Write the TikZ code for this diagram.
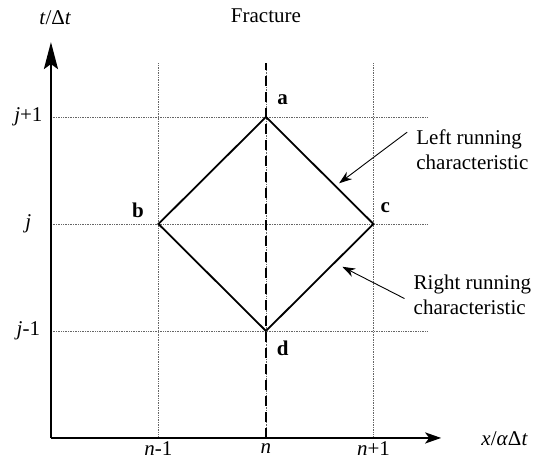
\documentclass[tikz,border=0pt]{standalone}
\usepackage{fontspec}
\setmainfont{Liberation Serif}
\usetikzlibrary{arrows.meta,positioning}
\tikzset{
    % thin dotted mesh lines
    gridline/.style={densely dotted, draw=black!60, line width=0.7pt},
    % coordinate axes
    axisline/.style={line width=2.6pt},
    taxis/.style={axisline, -{Stealth[length=27pt,width=14pt,inset=5pt]}},
    xaxis/.style={axisline, -{Stealth[length=16pt,width=11pt,inset=4pt]}},
    % the fracture
    fractureline/.style={line width=2.6pt, dash pattern=on 10pt off 6pt},
    % characteristic lines
    charline/.style={line width=1.8pt, line join=miter},
    % labels
    ptlabel/.style={font=\fontsize{21}{24}\selectfont\bfseries, inner sep=1pt},
    ticklabel/.style={font=\fontsize{21}{24}\selectfont, inner sep=1pt},
    notetext/.style={font=\fontsize{21}{25}\selectfont, align=left, inner sep=1pt},
    notearrow/.style={line width=0.9pt, -{Stealth[length=13pt,width=9pt]}},
}
\begin{document}
\begin{tikzpicture}[x=107.5pt,y=107pt]
      \useasboundingbox (-2.474,-2.206) rectangle (2.512,2.093);
      % mesh
      \foreach \i in {-1,0,1} {
        \draw[gridline] (\i,-2) -- (\i,1.5);
        \draw[gridline] (-2,\i) -- (1.5,\i);
      }
      % axes
      \coordinate (o) at (-2,-2);
      \coordinate (tend) at (-2,1.70);
      \coordinate (xend) at (1.63,-2);
      \draw[taxis] (o) -- (tend);
      \draw[xaxis] (o) -- (xend);
      \node[ticklabel] (tlab) at (-1.96,1.93) {\textit{t}/Δ\textit{t}};
      \node[ticklabel] (xlab) at (2.22,-2.01) {\textit{x}/\textit{α}Δ\textit{t}};
      % fracture
      \coordinate (fbot) at (0,-2);
      \coordinate (ftop) at (0,1.5);
      \draw[fractureline] (fbot) -- (ftop);
      \node[ticklabel] (frac) at (0,1.95) {Fracture};
      % grid points
      \coordinate (a) at (0,1);
      \coordinate (b) at (-1,0);
      \coordinate (c) at (1,0);
      \coordinate (d) at (0,-1);
      \draw[charline] (a) -- (c) -- (d) -- (b) -- cycle;
      \node[ptlabel] at (0.155,1.16) {a};
      \node[ptlabel] at (-1.19,0.13) {b};
      \node[ptlabel] at (1.11,0.15) {c};
      \node[ptlabel] at (0.155,-1.16) {d};
      % tick labels
      \node[ticklabel] at (-2.21,1) {\textit{j}+1};
      \node[ticklabel] at (-2.21,0) {\textit{j}};
      \node[ticklabel] at (-2.21,-1) {\textit{j}-1};
      \node[ticklabel] at (-1,-2.10) {\textit{n}-1};
      \node[ticklabel] at (0,-2.10) {\textit{n}};
      \node[ticklabel] at (1,-2.10) {\textit{n}+1};
      % annotations
      \node[notetext] (lefttxt) at (1.92,0.69) {Left running\\characteristic};
      \node[notetext] (righttxt) at (1.92,-0.66) {Right running\\characteristic};
      \coordinate (lhead) at (0.68,0.38);
      \coordinate (rhead) at (0.71,-0.40);
      \draw[notearrow] ([xshift=-8pt,yshift=18pt]lefttxt.west) -- (lhead);
      \draw[notearrow] ([xshift=-8pt,yshift=-4pt]righttxt.west) -- (rhead);
    \end{tikzpicture}
\end{document}
